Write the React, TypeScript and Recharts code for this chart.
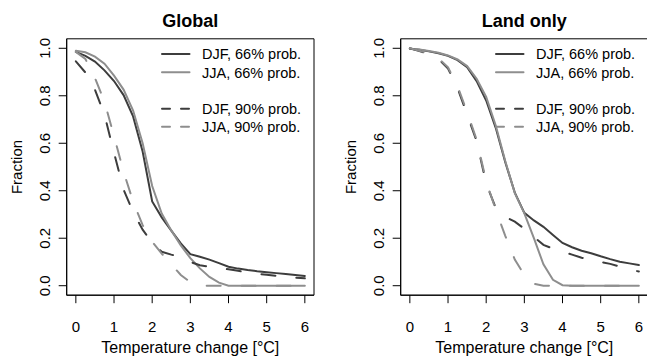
import React from 'react';
import { LineChart, Line, XAxis, YAxis, ReferenceArea } from 'recharts';

// Temperature change grid [°C]
const temps = [0, 0.25, 0.5, 0.75, 1, 1.25, 1.5, 1.75, 2, 2.25, 2.5, 2.75, 3, 3.25, 3.5, 3.75, 4, 4.25, 4.5, 4.75, 5, 5.25, 5.5, 5.75, 6];

// Global panel
const globalDjf66 = [0.985, 0.968, 0.944, 0.907, 0.862, 0.803, 0.713, 0.565, 0.355, 0.288, 0.232, 0.178, 0.133, 0.122, 0.11, 0.095, 0.08, 0.072, 0.066, 0.061, 0.057, 0.053, 0.049, 0.045, 0.041];
const globalJja66 = [0.99, 0.983, 0.965, 0.935, 0.885, 0.826, 0.738, 0.6, 0.42, 0.304, 0.233, 0.17, 0.116, 0.073, 0.037, 0.013, 0.0, 0, 0, 0, 0, 0, 0, 0, 0];
const globalDjf90 = [0.945, 0.898, 0.826, 0.72, 0.56, 0.405, 0.31, 0.236, 0.18, 0.143, 0.131, 0.12, 0.1, 0.086, 0.08, 0.074, 0.069, 0.063, 0.056, 0.05, 0.046, 0.042, 0.038, 0.034, 0.031];
const globalJja90 = [0.985, 0.955, 0.875, 0.775, 0.63, 0.48, 0.355, 0.255, 0.185, 0.135, 0.09, 0.045, 0.015, 0, 0, 0, 0, 0, 0, 0, 0, 0, 0, 0, 0];

// Land only panel
const landDjf66 = [0.998, 0.994, 0.987, 0.979, 0.968, 0.95, 0.92, 0.862, 0.78, 0.665, 0.52, 0.392, 0.307, 0.275, 0.248, 0.214, 0.18, 0.162, 0.147, 0.137, 0.124, 0.112, 0.101, 0.094, 0.087];
const landJja66 = [0.998, 0.995, 0.989, 0.981, 0.97, 0.953, 0.925, 0.872, 0.795, 0.675, 0.525, 0.39, 0.305, 0.2, 0.09, 0.025, 0.002, 0, 0, 0, 0, 0, 0, 0, 0];
const landDjf90 = [1.0, 0.988, 0.976, 0.955, 0.915, 0.832, 0.722, 0.608, 0.43, 0.328, 0.29, 0.27, 0.24, 0.205, 0.172, 0.156, 0.143, 0.131, 0.118, 0.107, 0.1, 0.092, 0.08, 0.068, 0.06];
const landJja90 = [1.0, 0.99, 0.978, 0.958, 0.92, 0.84, 0.732, 0.615, 0.44, 0.32, 0.21, 0.11, 0.045, 0.008, 0, 0, 0, 0, 0, 0, 0, 0, 0, 0, 0];

const xTicks = [0, 1, 2, 3, 4, 5, 6];
const yTicks = [0, 0.2, 0.4, 0.6, 0.8, 1.0];
const legendLabels = ['DJF, 66% prob.', 'JJA, 66% prob.', 'DJF, 90% prob.', 'JJA, 90% prob.'];

const DARK = '#3d3d3d';
const GRAY = '#8e8e8e';
const FONT = '"Liberation Sans", Arial, Helvetica, sans-serif';

const W = 334;
const H = 358;

function buildRows(a: number[], b: number[], c: number[], d: number[]) {
  return temps.map((t, i) => ({ t, djf66: a[i], jja66: b[i], djf90: c[i], jja90: d[i] }));
}

const XTick = (props: any) => {
  const { x, y, payload } = props;
  return (
    <text x={x} y={y + 29} textAnchor="middle" fontSize={15} fontFamily={FONT} fill="#000">
      {payload.value}
    </text>
  );
};

const YTick = (props: any) => {
  const { x, y, payload } = props;
  const bx = x - 8.7;
  return (
    <text x={bx} y={y} transform={`rotate(-90, ${bx}, ${y})`} textAnchor="middle" fontSize={15} fontFamily={FONT} fill="#000">
      {Number(payload.value).toFixed(1)}
    </text>
  );
};

const legendRows = [
  { y: 54, color: DARK, dash: undefined as string | undefined },
  { y: 72.2, color: GRAY, dash: undefined as string | undefined },
  { y: 108.7, color: DARK, dash: '8 11' },
  { y: 126.7, color: GRAY, dash: '8 11' },
];

function Panel({ title, rows }: { title: string; rows: any[] }) {
  return (
    <div style={{ position: 'relative', width: W, height: H }}>
      <LineChart width={W} height={H} data={rows} margin={{ top: 38.8, right: 20, bottom: 12.8, left: 6.7 }}>
        <XAxis
          type="number"
          dataKey="t"
          domain={[-0.24, 6.24]}
          ticks={xTicks}
          allowDataOverflow
          height={50}
          tickSize={8}
          tickMargin={0}
          tick={<XTick />}
          axisLine={{ stroke: '#000' }}
          tickLine={{ stroke: '#000' }}
          label={{
            content: () => (
              <text x={190.3} y={352.5} textAnchor="middle" fontSize={16} fontFamily={FONT} fill="#000">
                Temperature change [°C]
              </text>
            ),
          }}
        />
        <YAxis
          type="number"
          domain={[-0.04, 1.04]}
          ticks={yTicks}
          allowDataOverflow
          width={60}
          tickSize={8}
          tickMargin={0}
          tick={<YTick />}
          axisLine={{ stroke: '#000' }}
          tickLine={{ stroke: '#000' }}
          label={{
            content: () => (
              <text x={21.5} y={167} transform="rotate(-90, 21.5, 167)" textAnchor="middle" fontSize={15} fontFamily={FONT} fill="#000">
                Fraction
              </text>
            ),
          }}
        />
        <ReferenceArea x1={-0.24} x2={6.24} y1={-0.04} y2={1.04} fill="none" stroke="#000" strokeWidth={1} />
        <Line dataKey="djf66" stroke={DARK} strokeWidth={2} dot={false} isAnimationActive={false} type="linear" strokeLinecap="round" />
        <Line dataKey="jja66" stroke={GRAY} strokeWidth={2} dot={false} isAnimationActive={false} type="linear" strokeLinecap="round" />
        <Line dataKey="djf90" stroke={DARK} strokeWidth={2} strokeDasharray="14 21" dot={false} isAnimationActive={false} type="linear" strokeLinecap="round" />
        <Line dataKey="jja90" stroke={GRAY} strokeWidth={2} strokeDasharray="14 21" dot={false} isAnimationActive={false} type="linear" strokeLinecap="round" />
      </LineChart>
      <svg width={W} height={H} style={{ position: 'absolute', left: 0, top: 0, pointerEvents: 'none' }}>
        <text x={190.3} y={26.5} textAnchor="middle" fontSize={18} fontWeight="bold" fontFamily={FONT} fill="#000">
          {title}
        </text>
        {legendRows.map((r, i) => (
          <g key={i}>
            <line x1={162} x2={189.5} y1={r.y} y2={r.y} stroke={r.color} strokeWidth={2} strokeDasharray={r.dash} strokeLinecap="round" />
            <text x={202} y={r.y + 5.3} fontSize={14.5} fontFamily={FONT} fill="#000">
              {legendLabels[i]}
            </text>
          </g>
        ))}
      </svg>
    </div>
  );
}

export default function App() {
  const globalRows = buildRows(globalDjf66, globalJja66, globalDjf90, globalJja90);
  const landRows = buildRows(landDjf66, landJja66, landDjf90, landJja90);
  return (
    <div style={{ position: 'absolute', left: 0, top: 0, width: 647, height: 358, overflow: 'hidden', background: '#fff' }}>
      <div style={{ position: 'absolute', left: 0, top: 0 }}>
        <Panel title="Global" rows={globalRows} />
      </div>
      <div style={{ position: 'absolute', left: 334, top: 0 }}>
        <Panel title="Land only" rows={landRows} />
      </div>
    </div>
  );
}
